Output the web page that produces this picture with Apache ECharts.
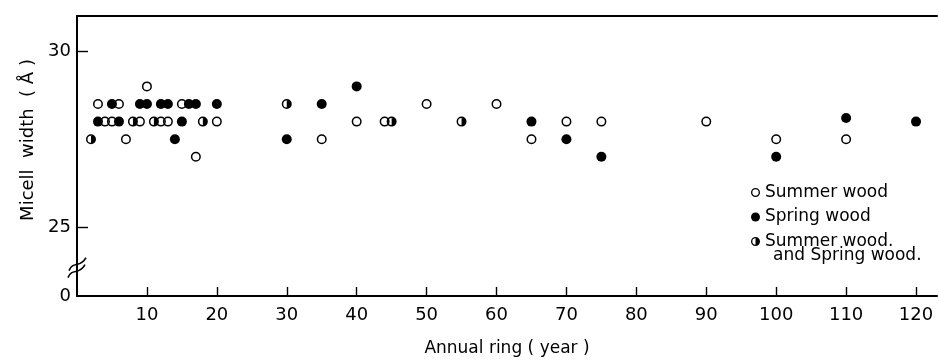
<!DOCTYPE html>
<html><head><meta charset="utf-8">
<script src="https://cdn.jsdelivr.net/npm/echarts@6/dist/echarts.min.js"></script>
<style>html,body{margin:0;padding:0;background:#fff}#c{width:939px;height:362px}</style>
</head><body><div id="c"></div>
<script>
// ---- data ----
const xTickValues = [10, 20, 30, 40, 50, 60, 70, 80, 90, 100, 110, 120];
const yTickValues = [25, 30];
const yBreakValue = 23.045;          // axis bottom, labelled "0" (broken axis)
const yLabelValues = [yBreakValue, 25, 30];
const seriesNames = ['Summer wood', 'Spring wood', 'Summer wood.'];
const legendExtraLine = 'and Spring wood.';

const summerWood = [
  [10, 29.0], [3, 28.5], [6, 28.5], [15, 28.5],
  [4, 28.0], [5, 28.0], [9, 28.0], [12, 28.0], [13, 28.0], [20, 28.0],
  [7, 27.5], [17, 27.0],
  [40, 28.0], [44, 28.0], [35, 27.5], [50, 28.5], [60, 28.5],
  [65, 27.5], [70, 28.0], [75, 28.0], [90, 28.0], [100, 27.5], [110, 27.5]
];
const springWood = [
  [5, 28.5], [9, 28.5], [10, 28.5], [12, 28.5], [13, 28.5], [16, 28.5], [17, 28.5], [20, 28.5],
  [3, 28.0], [6, 28.0], [15, 28.0], [14, 27.5],
  [35, 28.5], [40, 29.0], [30, 27.5], [65, 28.0], [70, 27.5], [75, 27.0],
  [100, 27.0], [110, 28.1], [120, 28.0]
];
const bothWood = [
  [2, 27.5], [8, 28.0], [11, 28.0], [18, 28.0], [30, 28.5], [45, 28.0], [55, 28.0]
];

// ---- styles ----
const INK = '#000';
const FONT = 'DejaVu Sans';
const RING = 'M10 0A10 10 0 1 1 10 20A10 10 0 1 1 10 0Z M10 3A7 7 0 1 0 10 17A7 7 0 1 0 10 3Z';
const SYM_OPEN = 'path://' + RING;
const SYM_HALF = 'path://' + RING + ' M10 0A10 10 0 0 1 10 20Z';

const chart = echarts.init(document.getElementById('c'), null, {renderer: 'canvas'});
const option = {
  animation: false,
  backgroundColor: '#fff',
  grid: {left: 77, right: 2, top: 16, bottom: 65},
  xAxis: [{
    type: 'value', min: 0, max: 123, position: 'bottom',
    name: 'Annual ring ( year )', nameLocation: 'middle', nameGap: 44,
    nameTextStyle: {fontFamily: FONT, fontSize: 17, color: INK},
    splitLine: {show: false},
    axisLine: {lineStyle: {color: INK, width: 2}},
    axisTick: {inside: true, length: 9, customValues: xTickValues, lineStyle: {color: INK, width: 1.4}},
    axisLabel: {customValues: xTickValues, margin: 10, fontFamily: FONT, fontSize: 18, color: INK}
  }, {
    type: 'value', min: 0, max: 123, position: 'top',
    splitLine: {show: false},
    axisLine: {show: true, lineStyle: {color: INK, width: 2}},
    axisTick: {show: false}, axisLabel: {show: false}
  }],
  yAxis: {
    type: 'value', min: yBreakValue, max: 31,
    name: 'Micell  width  ( Å )', nameLocation: 'middle', nameGap: 38, nameRotate: 90,
    nameTextStyle: {fontFamily: FONT, fontSize: 18, color: INK, padding: [0, 0, 0, 32]},
    splitLine: {show: false},
    axisLine: {show: true, lineStyle: {color: INK, width: 2}},
    axisTick: {show: true, inside: true, length: 11, customValues: yTickValues, lineStyle: {color: INK, width: 1.4}},
    axisLabel: {
      customValues: yLabelValues, margin: 6, fontFamily: FONT, fontSize: 18, color: INK,
      formatter: v => (v < 24 ? '0' : String(Math.round(v)))
    }
  },
  legend: {
    orient: 'vertical', left: 751, top: 184, padding: 0,
    itemWidth: 9, itemHeight: 9, itemGap: 7.5,
    textStyle: {fontFamily: FONT, fontSize: 17, color: INK, lineHeight: 16},
    data: [
      {name: seriesNames[0]},
      {name: seriesNames[1], icon: 'circle'},
      {name: seriesNames[2]}
    ]
  },
  series: [
    {name: seriesNames[1], type: 'scatter', data: springWood, symbol: 'circle', symbolSize: 10,
     itemStyle: {color: INK, opacity: 1}},
    {name: seriesNames[0], type: 'scatter', data: summerWood, symbol: SYM_OPEN, symbolSize: 10,
     itemStyle: {color: INK, opacity: 1}},
    {name: seriesNames[2], type: 'scatter', data: bothWood, symbol: SYM_HALF, symbolSize: 10,
     itemStyle: {color: INK, opacity: 1}}
  ]
};
chart.setOption(option);

// axis-break mark on the y axis + second line of third legend entry
const bx = chart.convertToPixel({xAxisIndex: 0}, 0);
const by = chart.convertToPixel({yAxisIndex: 0}, 23.88);
chart.setOption({
  graphic: [
    {type: 'bezierCurve', x: bx, y: by, z: 100,
     shape: {x1: -8, y1: 4, cpx1: -4, cpy1: -6, cpx2: 3, cpy2: 2, x2: 9, y2: -9},
     style: {fill: null, stroke: INK, lineWidth: 1.6}},
    {type: 'bezierCurve', x: bx, y: by, z: 100,
     shape: {x1: -9, y1: 11, cpx1: -5, cpy1: 1, cpx2: 2, cpy2: 9, x2: 8, y2: -2},
     style: {fill: null, stroke: INK, lineWidth: 1.6}},
    {type: 'text', left: 773, top: 247, z: 100,
     style: {text: legendExtraLine, fontFamily: FONT, fontSize: 17, fill: INK}}
  ]
});
</script>
</body></html>
